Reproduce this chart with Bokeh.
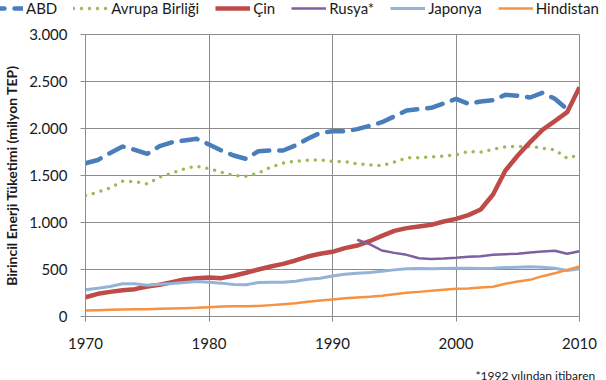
from bokeh.plotting import figure
from bokeh.models import (Legend, LegendItem, FixedTicker, Range1d, Label)
from bokeh.embed import file_html
from bokeh.resources import INLINE

years = list(range(1970, 2011))
years_abd = list(range(1970, 2010))
years_rus = list(range(1992, 2011))

abd = [1630, 1665, 1740, 1808, 1773, 1730, 1812, 1854, 1873, 1890,
       1830, 1766, 1713, 1677, 1759, 1766, 1766, 1819, 1890, 1954,
       1971, 1970, 1993, 2028, 2067, 2128, 2191, 2206, 2220, 2266,
       2316, 2262, 2287, 2301, 2358, 2347, 2330, 2380, 2316, 2205]
avrupa = [1287, 1323, 1369, 1440, 1436, 1411, 1482, 1525, 1571, 1599,
          1571, 1535, 1500, 1493, 1525, 1589, 1631, 1652, 1663, 1667,
          1649, 1649, 1624, 1613, 1606, 1642, 1688, 1688, 1699, 1706,
          1720, 1755, 1748, 1780, 1805, 1809, 1809, 1791, 1773, 1684,
          1720]
cin = [205, 241, 262, 280, 291, 319, 337, 365, 394, 408,
       415, 408, 433, 465, 500, 532, 560, 596, 638, 667,
       688, 727, 755, 801, 858, 911, 940, 957, 975, 1011,
       1039, 1078, 1138, 1298, 1553, 1713, 1855, 1986, 2078, 2174,
       2440]
rusya = [816, 770, 702, 677, 656, 620, 613, 617, 624, 635,
         642, 656, 663, 667, 681, 691, 699, 667, 695]
japonya = [284, 301, 319, 348, 348, 333, 344, 351, 362, 372,
           365, 355, 340, 337, 362, 365, 365, 376, 397, 408,
           430, 450, 461, 468, 482, 496, 507, 511, 507, 511,
           514, 514, 511, 514, 521, 525, 528, 525, 514, 489,
           507]
hindistan = [64, 67, 71, 74, 76, 78, 82, 85, 89, 92,
             99, 106, 110, 110, 113, 121, 131, 142, 156, 170,
             182, 195, 202, 209, 220, 237, 252, 262, 273, 284,
             294, 298, 309, 316, 348, 372, 390, 429, 461, 496,
             532]

series_names = ["ABD", "Avrupa Birliği", "Çin", "Rusya*", "Japonya", "Hindistan"]
x_ticks = [1970, 1980, 1990, 2000, 2010]
y_ticks = [0, 500, 1000, 1500, 2000, 2500, 3000]
y_tick_labels = ["0", "500", "1.000", "1.500", "2.000", "2.500", "3.000"]
footnote = "*1992 yılından itibaren"

FONT = "Lato"
GRID = "#8c8c8c"
TXT = "#1a1a1a"

styles = [
    dict(line_color="#4a7ebb", line_width=4.5, line_dash="16 10", line_cap="round"),
    dict(line_color="#9bbb59", line_width=3.5, line_dash="0 8", line_cap="round"),
    dict(line_color="#be4b48", line_width=4.5, line_join="round"),
    dict(line_color="#7d60a0", line_width=2.5, line_join="round"),
    dict(line_color="#94b3d7", line_width=3, line_join="round"),
    dict(line_color="#f59342", line_width=2.5, line_join="round"),
]
xs = [years_abd, years, years, years_rus, years, years]
ys = [abd, avrupa, cin, rusya, japonya, hindistan]

# ---- main chart ----
p = figure(width=606, height=340, output_backend="svg", toolbar_location=None,
           x_range=Range1d(1970, 2010), y_range=Range1d(0, 3000),
           min_border_left=83, min_border_right=27, min_border_top=12,
           min_border_bottom=46)
p.outline_line_color = GRID

p.xaxis.ticker = FixedTicker(ticks=x_ticks)
p.yaxis.ticker = FixedTicker(ticks=y_ticks)
p.yaxis.major_label_overrides = {t: l for t, l in zip(y_ticks, y_tick_labels)}
p.xgrid.ticker = FixedTicker(ticks=x_ticks)
p.ygrid.ticker = FixedTicker(ticks=y_ticks)
for g in (p.xgrid, p.ygrid):
    g.grid_line_color = GRID
    g.grid_line_width = 1

for ax in (p.xaxis, p.yaxis):
    ax.axis_line_color = GRID
    ax.major_tick_line_color = GRID
    ax.minor_tick_line_color = None
    ax.major_tick_out = 5
    ax.major_tick_in = 0
    ax.major_label_text_font = FONT
    ax.major_label_text_font_size = "15px"
    ax.major_label_text_color = TXT

p.xaxis.major_label_standoff = 16
p.yaxis.major_label_standoff = 13
p.yaxis.axis_label = "Birincil Enerji Tüketimi (milyon TEP)"
p.yaxis.axis_label_text_font = FONT
p.yaxis.axis_label_text_font_size = "14px"
p.yaxis.axis_label_text_font_style = "bold"
p.yaxis.axis_label_text_color = TXT
p.yaxis.axis_label_standoff = 6

for x, y, st in zip(xs, ys, styles):
    p.line(x, y, **st)

# ---- legend strip (same series, drawn outside its visible range) ----
lg = figure(width=606, height=22, output_backend="svg", toolbar_location=None,
            x_range=Range1d(0, 1), y_range=Range1d(0, 1),
            x_axis_location=None, y_axis_location=None,
            min_border=0, min_border_left=0, min_border_right=0,
            min_border_top=0, min_border_bottom=0)
lg.grid.visible = False
lg.outline_line_color = None
items = []
for name, x, y, st in zip(series_names, xs, ys, styles):
    r = lg.line(x, y, **st)
    items.append(LegendItem(label=name, renderers=[r]))
legend = Legend(items=items, orientation="horizontal", location=(-12, 5))
legend.label_text_font = FONT
legend.label_text_font_size = "15px"
legend.label_text_color = TXT
legend.glyph_width = 35
legend.glyph_height = 14
legend.label_height = 14
legend.label_standoff = 3
legend.spacing = 16
legend.padding = 0
legend.margin = 0
legend.border_line_color = None
legend.background_fill_alpha = 0
lg.add_layout(legend, "center")

# ---- footnote strip ----
ft = figure(width=606, height=18, output_backend="svg", toolbar_location=None,
            x_range=Range1d(0, 1), y_range=Range1d(0, 1),
            x_axis_location=None, y_axis_location=None,
            min_border=0, min_border_left=0, min_border_right=0,
            min_border_top=0, min_border_bottom=0)
ft.grid.visible = False
ft.outline_line_color = None
ft.add_layout(Label(x=595, y=5, x_units="screen", y_units="screen",
                    text=footnote, text_align="right",
                    text_baseline="alphabetic", text_font=FONT,
                    text_font_size="12px", text_color=TXT))

open("out.html", "w").write(file_html([lg, p, ft], INLINE))
